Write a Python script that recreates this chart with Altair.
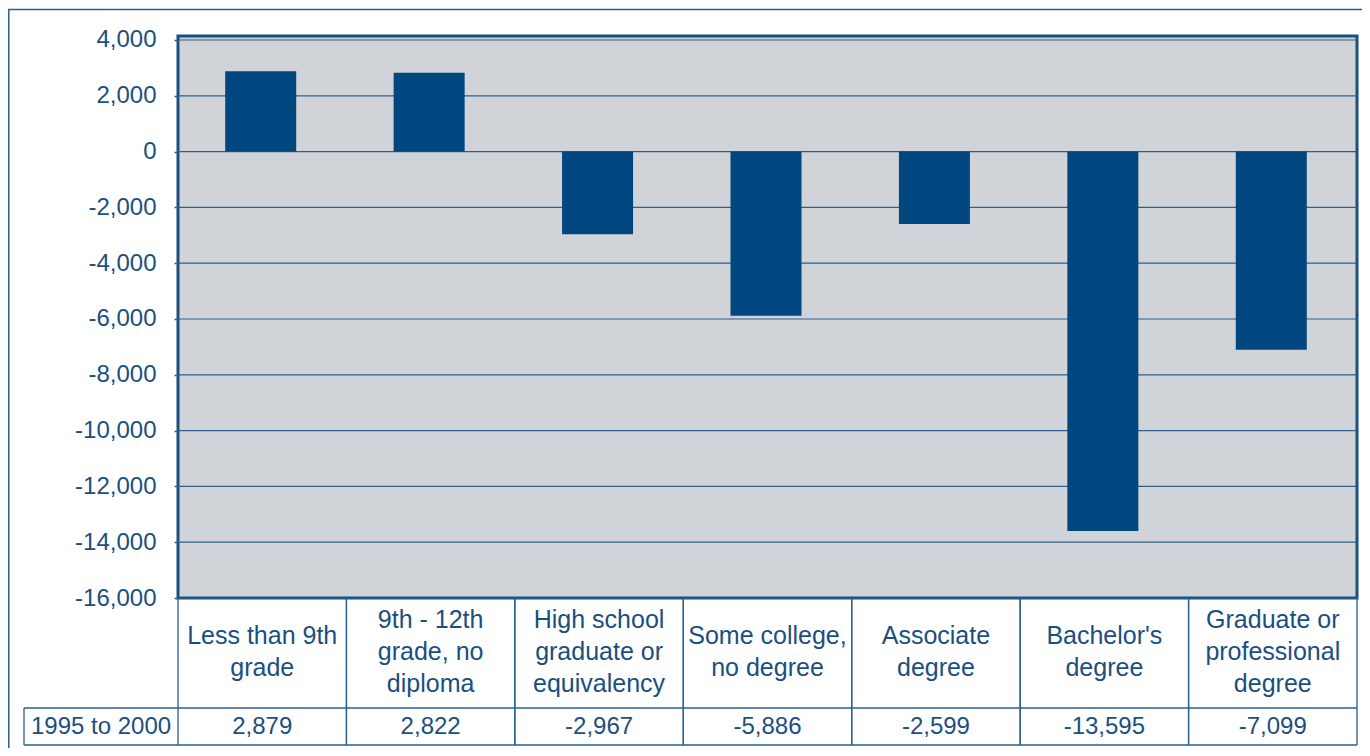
import altair as alt
import pandas as pd

categories = [
    "Less than 9th grade",
    "9th - 12th grade, no diploma",
    "High school graduate or equivalency",
    "Some college, no degree",
    "Associate degree",
    "Bachelor's degree",
    "Graduate or professional degree",
]
label_lines = [
    ["Less than 9th", "grade"],
    ["9th - 12th", "grade, no", "diploma"],
    ["High school", "graduate or", "equivalency"],
    ["Some college,", "no degree"],
    ["Associate", "degree"],
    ["Bachelor's", "degree"],
    ["Graduate or", "professional", "degree"],
]
values = [2879, 2822, -2967, -5886, -2599, -13595, -7099]
series_name = "1995 to 2000"
y_ticks = list(range(-16000, 4001, 2000))

df = pd.DataFrame({
    "cat": categories,
    "lines": label_lines,
    "value": values,
    "vtext": [f"{v:,}" for v in values],
})

TEXT = "#1B4F7F"
LINE = "#2A5F8F"
BAR = "#00467F"
BG = "#D0D4D8"
FONT = "Liberation Sans"

W, H = 1179, 562

x_enc = alt.X("cat:N", sort=categories, axis=None,
              scale=alt.Scale(paddingInner=0, paddingOuter=0))

base = alt.Chart(df)

grid = alt.Chart(pd.DataFrame({"t": y_ticks})).mark_rule(
    color=LINE, strokeWidth=1.2
).encode(y=alt.Y("t:Q"))

bars = base.mark_bar(size=71, color=BAR, xOffset=-1.5).encode(
    x=x_enc,
    y=alt.Y("value:Q",
            scale=alt.Scale(domain=[-16000, 4143], nice=False, zero=False),
            axis=alt.Axis(values=y_ticks, grid=False, domain=False,
                          labelExpr="replace(format(datum.value, ',.0f'), '\u2212', '-')",
                          tickSize=4, tickColor=LINE, tickWidth=1.5,
                          labelFontSize=24, labelFont=FONT, labelColor=TEXT,
                          labelPadding=18, title=None)),
)

cat_text = base.transform_calculate(
    ly="616 - (length(datum.lines) - 1) * 16"
).mark_text(
    fontSize=25, font=FONT, color=TEXT, align="center", baseline="middle",
    lineHeight=32, clip=False
).encode(x=x_enc, y=alt.Y("ly:Q", scale=None), text="lines")

val_text = base.mark_text(
    fontSize=24, font=FONT, color=TEXT, align="center", baseline="middle", clip=False
).encode(x=x_enc, y=alt.value(691), text="vtext:N")

vlines_l = base.mark_rule(color=LINE, strokeWidth=1.3, clip=False).encode(
    x=alt.X("cat:N", sort=categories, axis=None, bandPosition=0,
            scale=alt.Scale(paddingInner=0, paddingOuter=0)),
    y=alt.value(H), y2=alt.value(709))
vlines_r = base.mark_rule(color=LINE, strokeWidth=1.3, clip=False).encode(
    x=alt.X("cat:N", sort=categories, axis=None, bandPosition=1,
            scale=alt.Scale(paddingInner=0, paddingOuter=0)),
    y=alt.value(H), y2=alt.value(709))

one = pd.DataFrame({"a": [0]})
hl1 = alt.Chart(one).mark_rule(color=LINE, strokeWidth=1.3, clip=False).encode(
    x=alt.value(-154), x2=alt.value(W), y=alt.value(672))
hl2 = alt.Chart(one).mark_rule(color=LINE, strokeWidth=1.3, clip=False).encode(
    x=alt.value(-154), x2=alt.value(W), y=alt.value(709))
vl_left = alt.Chart(one).mark_rule(color=LINE, strokeWidth=1.3, clip=False).encode(
    x=alt.value(-154), y=alt.value(672), y2=alt.value(709))
series_text = alt.Chart(pd.DataFrame({"s": [series_name]})).mark_text(
    fontSize=24, font=FONT, color=TEXT, align="center", baseline="middle", clip=False
).encode(x=alt.value(-77), y=alt.value(691), text="s:N")

outer_top = alt.Chart(one).mark_rule(color=LINE, strokeWidth=1.5, clip=False).encode(
    x=alt.value(-170), x2=alt.value(W + 20), y=alt.value(-26.5))
outer_left = alt.Chart(one).mark_rule(color=LINE, strokeWidth=1.5, clip=False).encode(
    x=alt.value(-169.2), y=alt.value(-26.5), y2=alt.value(H + 200))

chart = alt.layer(
    grid, bars, cat_text, val_text, vlines_l, vlines_r, hl1, hl2, vl_left,
    series_text, outer_top, outer_left
).resolve_scale(x="shared", y="shared").properties(
    width=W, height=H,
    autosize=alt.AutoSizeParams(type="none"),
    padding={"left": 170, "top": 28, "right": 5, "bottom": 150},
    background="white",
).configure_view(
    fill=BG, stroke=TEXT, strokeWidth=3
)

chart.save("out.html", embed_options={"renderer": "svg", "actions": False})
